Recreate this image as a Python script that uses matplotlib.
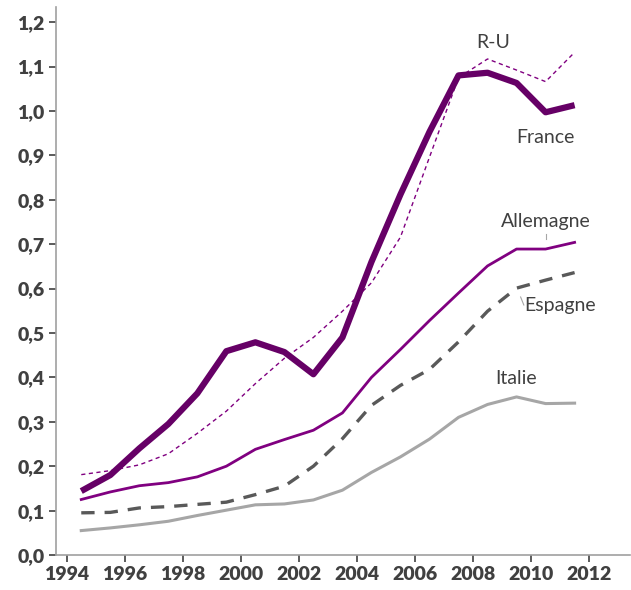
import matplotlib
matplotlib.use("Agg")
import matplotlib.pyplot as plt
from matplotlib.ticker import FuncFormatter

# Mid-year positions for each annual observation
years = [1994.5 + i for i in range(18)]

france = [0.144, 0.180, 0.240, 0.295, 0.364, 0.459, 0.479, 0.457, 0.407,
          0.490, 0.660, 0.812, 0.953, 1.080, 1.086, 1.063, 0.997, 1.013]
ru = [0.181, 0.190, 0.203, 0.228, 0.274, 0.324, 0.386, 0.443, 0.490,
      0.549, 0.613, 0.716, 0.896, 1.075, 1.117, 1.092, 1.066, 1.132]
allemagne = [0.125, 0.142, 0.156, 0.163, 0.176, 0.200, 0.238, 0.260, 0.281,
             0.320, 0.400, 0.463, 0.528, 0.590, 0.651, 0.689, 0.689, 0.704]
espagne = [0.095, 0.096, 0.106, 0.109, 0.114, 0.119, 0.136, 0.155, 0.200,
           0.262, 0.337, 0.382, 0.418, 0.480, 0.549, 0.601, 0.619, 0.636]
italie = [0.055, 0.061, 0.068, 0.076, 0.089, 0.101, 0.113, 0.115, 0.124,
          0.146, 0.186, 0.221, 0.261, 0.310, 0.339, 0.356, 0.341, 0.342]

x_ticks = list(range(1994, 2013, 2))
y_ticks = [i / 10 for i in range(13)]

plt.rcParams['font.family'] = ['Lato', 'DejaVu Sans']

fig = plt.figure(figsize=(6.31, 5.90), dpi=100)
ax = fig.add_axes([0.0883, 0.0593, 0.9097, 0.9288])

ax.plot(years, italie, color='#a6a6a6', lw=2.2, solid_joinstyle='round')
ax.plot(years, espagne, color='#595959', lw=2.4, ls=(0, (4, 3)))
ax.plot(years, allemagne, color='#800080', lw=2.0, solid_joinstyle='round')
ax.plot(years, ru, color='#800080', lw=1.0, ls=(0, (3, 2.5)))
ax.plot(years, france, color='#660066', lw=4.5, solid_joinstyle='round',
        solid_capstyle='butt')

ax.set_xlim(1993.62, 2013.4)
ax.set_ylim(0, 1.234)
ax.set_xticks(x_ticks)
ax.set_yticks(y_ticks)
ax.yaxis.set_major_formatter(FuncFormatter(lambda v, p: f'{v:.1f}'.replace('.', ',')))

for side in ['top', 'right']:
    ax.spines[side].set_visible(False)
for side in ['left', 'bottom']:
    ax.spines[side].set_color('#a0a0a0')
    ax.spines[side].set_linewidth(1.2)

ax.tick_params(axis='both', direction='out', length=5, width=1.2,
               color='#404040', labelcolor='#404040', labelsize=14)
ax.tick_params(axis='x', pad=3)
ax.tick_params(axis='y', pad=3)
for lbl in ax.get_xticklabels() + ax.get_yticklabels():
    lbl.set_fontweight('heavy')

# Series labels
lab = dict(color='#404040', fontsize=14, ha='center', va='center')
ax.text(2008.7, 1.155, 'R-U', **lab)
ax.text(2010.5, 0.941, 'France', **lab)
ax.text(2010.5, 0.752, 'Allemagne', **lab)
ax.text(2011.0, 0.561, 'Espagne', **lab)
ax.text(2009.5, 0.398, 'Italie', **lab)

# Small leader lines
ax.plot([2010.5, 2010.5], [0.711, 0.723], color='#a6a6a6', lw=0.8)
ax.plot([2009.64, 2009.75], [0.581, 0.563], color='#a6a6a6', lw=0.8)

fig.savefig('out.png', dpi=100)
